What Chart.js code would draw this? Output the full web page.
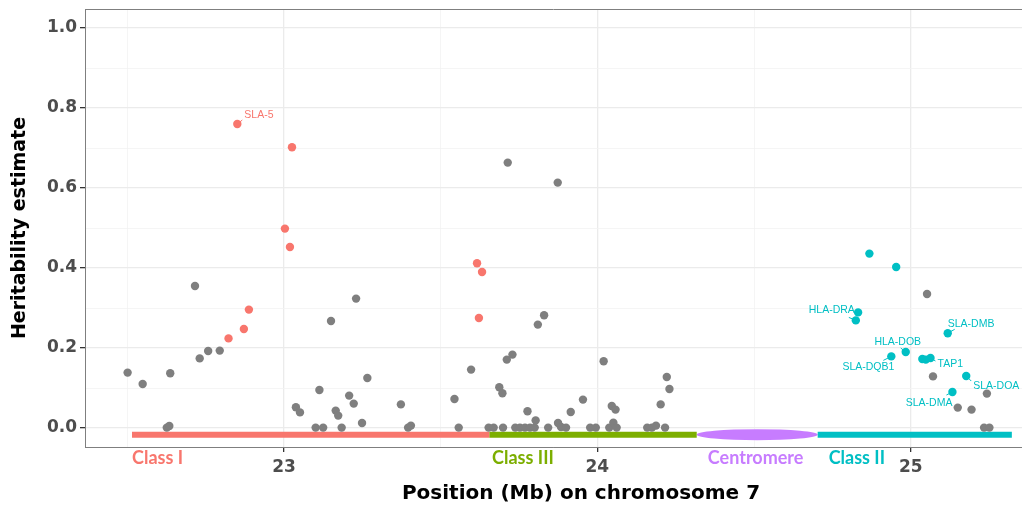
<!DOCTYPE html>
<html>
<head>
<meta charset="utf-8">
<script src="https://cdn.jsdelivr.net/npm/chart.js@4.4.0/dist/chart.umd.min.js"></script>
<style>
  body { margin: 0; background: #fff; }
  #wrap { width: 1022px; height: 508px; }
</style>
</head>
<body>
<div id="wrap"><canvas id="chart" width="1022" height="508"></canvas></div>
<script>
// Heritability estimates along the MHC region, chromosome 7 (Mb)
const otherX = [22.501, 22.549, 22.626, 22.634, 22.637, 22.716, 22.731, 22.758, 22.795,
  23.038, 23.051, 23.101, 23.113, 23.125, 23.150, 23.165, 23.173, 23.184, 23.208, 23.2225,
  23.230, 23.249, 23.266, 23.373, 23.396, 23.405, 23.544, 23.5575, 23.597, 23.653, 23.669,
  23.687, 23.697, 23.699, 23.711, 23.714, 23.729, 23.738, 23.753, 23.769, 23.777, 23.785,
  23.800, 23.803, 23.810, 23.830, 23.843, 23.8735, 23.8745, 23.884, 23.900, 23.915, 23.954,
  23.977, 23.995, 24.020, 24.038, 24.046, 24.051, 24.058, 24.0615, 24.159, 24.174, 24.187,
  24.202, 24.216, 24.2215, 24.230, 25.052, 25.071, 25.150, 25.194, 25.234, 25.243, 25.251];
const otherY = [0.1385, 0.110, 0.001, 0.005, 0.137, 0.355, 0.174, 0.1925, 0.1935,
  0.052, 0.039, 0.001, 0.095, 0.001, 0.2675, 0.0435, 0.031, 0.001, 0.081, 0.061,
  0.3235, 0.0125, 0.125, 0.059, 0.001, 0.006, 0.0725, 0.001, 0.146, 0.001, 0.001,
  0.102, 0.087, 0.001, 0.171, 0.6635, 0.1835, 0.001, 0.001, 0.001, 0.042, 0.001,
  0.001, 0.019, 0.2585, 0.282, 0.001, 0.6135, 0.0125, 0.0025, 0.001, 0.040, 0.071,
  0.001, 0.001, 0.1667, 0.001, 0.055, 0.0135, 0.046, 0.001, 0.001, 0.001, 0.006,
  0.059, 0.001, 0.1275, 0.0975, 0.335, 0.129, 0.051, 0.046, 0.001, 0.086, 0.001];

const classIX = [22.823, 22.851, 22.872, 22.888, 23.003, 23.019, 23.0255, 23.616, 23.622, 23.632];
const classIY = [0.224, 0.760, 0.2475, 0.296, 0.4985, 0.4525, 0.702, 0.412, 0.275, 0.390];

const classIIX = [24.8247, 24.832, 24.868, 24.938, 24.9535, 24.984, 25.037, 25.048, 25.063, 25.118, 25.133, 25.177];
const classIIY = [0.269, 0.289, 0.436, 0.179, 0.4025, 0.190, 0.1725, 0.171, 0.175, 0.2368, 0.090, 0.130];

// labelled genes (x, y of the labelled point)
const geneNames = ['SLA-5', 'HLA-DRA', 'SLA-DMB', 'HLA-DOB', 'SLA-DQB1', 'TAP1', 'SLA-DOA', 'SLA-DMA'];
const geneX = [22.851, 24.8247, 25.118, 24.984, 24.938, 25.063, 25.177, 25.133];
const geneY = [0.760, 0.269, 0.2368, 0.190, 0.179, 0.175, 0.130, 0.090];

// MHC regions along the chromosome
const regionNames = ['Class I', 'Class III', 'Centromere', 'Class II'];
const regionStart = [22.515, 23.655, 24.317, 24.703];
const regionEnd = [23.655, 24.317, 24.703, 25.3226];
const regionLevel = -0.0166;

const yTicks = [0, 0.2, 0.4, 0.6, 0.8, 1.0];
const xTicks = [23, 24, 25];

const RED = '#F8766D', GREEN = '#7CAE00', PURPLE = '#C77CFF', TEAL = '#00BFC4', GREY = '#7F7F7F';
const regionColors = [RED, GREEN, PURPLE, TEAL];

function pts(xs, ys) {
  return xs.map((x, i) => ({ x: x, y: ys[i] }));
}

function isMajor(v, list) {
  return list.some(t => Math.abs(t - v) < 1e-6);
}

// chromosome region bars (the centromere is drawn as an ellipse by the plugin)
const regionSets = regionNames.map((name, i) => ({
  label: name,
  data: name === 'Centromere' ? [] : [{ x: regionStart[i], y: regionLevel }, { x: regionEnd[i], y: regionLevel }],
  showLine: true,
  borderColor: regionColors[i],
  borderWidth: 6,
  borderCapStyle: 'butt',
  pointRadius: 0,
  order: 5
}));

const annotations = {
  id: 'annotations',
  beforeDatasetsDraw(chart) {
    const { ctx, scales: { x, y } } = chart;
    const i = regionNames.indexOf('Centromere');
    const x0 = x.getPixelForValue(regionStart[i]);
    const x1 = x.getPixelForValue(regionEnd[i]);
    const yc = y.getPixelForValue(regionLevel);
    ctx.save();
    ctx.fillStyle = PURPLE;
    ctx.beginPath();
    ctx.ellipse((x0 + x1) / 2, yc, (x1 - x0) / 2, 5.5, 0, 0, Math.PI * 2);
    ctx.fill();
    ctx.restore();
  },
  afterDatasetsDraw(chart) {
    const { ctx, chartArea, scales: { x, y } } = chart;
    ctx.save();
    // top panel border
    ctx.strokeStyle = '#7f7f7f';
    ctx.lineWidth = 1;
    ctx.beginPath();
    ctx.moveTo(chartArea.left, chartArea.top + 0.5);
    ctx.lineTo(chartArea.right, chartArea.top + 0.5);
    ctx.stroke();

    // gene labels: [segment dx, dy, text dx, dy, align]
    const place = {
      'SLA-5': [5, -4, 7, -9, 'left'],
      'HLA-DRA': [-7, -3, -1, -10, 'right'],
      'SLA-DMB': [7, -4, 0, -9, 'left'],
      'HLA-DOB': [-5, -4, -8, -10, 'center'],
      'SLA-DQB1': [-8, 4, 3, 11, 'right'],
      'TAP1': [5, 3, 7, 6, 'left'],
      'SLA-DOA': [5, 5, 7, 10, 'left'],
      'SLA-DMA': [-6, 3, 0, 11, 'right']
    };
    ctx.font = '10.5px "Liberation Sans", Arial, sans-serif';
    ctx.textBaseline = 'middle';
    geneNames.forEach((g, i) => {
      const p = place[g];
      const px = x.getPixelForValue(geneX[i]);
      const py = y.getPixelForValue(geneY[i]);
      const col = g === 'SLA-5' ? RED : TEAL;
      ctx.strokeStyle = col;
      ctx.lineWidth = 1;
      ctx.beginPath();
      ctx.moveTo(px, py);
      ctx.lineTo(px + p[0], py + p[1]);
      ctx.stroke();
      ctx.fillStyle = col;
      ctx.textAlign = p[4];
      ctx.fillText(g, px + p[2], py + p[3]);
    });

    // region names under the axis
    const anchor = { 'Class I': [22.515, 'left'], 'Class III': [23.664, 'left'], 'Centromere': [24.505, 'center'], 'Class II': [24.738, 'left'] };
    ctx.font = 'bold 18px Lato, "Open Sans", sans-serif';
    regionNames.forEach((r, i) => {
      ctx.fillStyle = regionColors[i];
      ctx.textAlign = anchor[r][1];
      ctx.fillText(r, x.getPixelForValue(anchor[r][0]), chartArea.bottom + 11);
    });

    // x axis title: the source panel runs past the right edge of the picture,
    // so the title sits right of the visible centre
    ctx.fillStyle = '#000';
    ctx.textAlign = 'center';
    ctx.font = 'bold 20px "DejaVu Sans", sans-serif';
    ctx.fillText('Position (Mb) on chromosome 7', 581, 494);
    ctx.restore();
  }
};

new Chart(document.getElementById('chart'), {
  type: 'scatter',
  data: {
    datasets: [
      { label: 'Other', data: pts(otherX, otherY), backgroundColor: GREY, pointRadius: 4.2, pointBorderWidth: 0, order: 3 },
      { label: 'Class I', data: pts(classIX, classIY), backgroundColor: RED, pointRadius: 4.2, pointBorderWidth: 0, order: 2 },
      { label: 'Class II', data: pts(classIIX, classIIY), backgroundColor: TEAL, pointRadius: 4.2, pointBorderWidth: 0, order: 1 },
      ...regionSets
    ]
  },
  options: {
    responsive: false,
    animation: false,
    devicePixelRatio: 1,
    layout: { autoPadding: false, padding: { top: 9, right: 0, left: 0, bottom: 0 } },
    plugins: { legend: { display: false }, tooltip: { enabled: false } },
    elements: { point: { borderWidth: 0, hoverRadius: 4 } },
    scales: {
      x: {
        type: 'linear',
        min: 22.365,
        max: 25.355,
        afterFit(scale) {
          scale.height = 61;
          scale.paddingLeft = 0;
          scale.paddingRight = 0;
        },
        ticks: {
          stepSize: 0.5,
          includeBounds: false,
          autoSkip: false,
          maxRotation: 0,
          padding: 5,
          color: '#4D4D4D',
          font: { family: '"DejaVu Sans", sans-serif', size: 17, weight: 'bold' },
          callback: v => isMajor(v, xTicks) ? String(v) : ''
        },
        grid: {
          color: c => isMajor(c.tick.value, xTicks) ? '#EBEBEB' : '#F3F3F3',
          lineWidth: c => isMajor(c.tick.value, xTicks) ? 1.3 : 0.8,
          tickColor: c => isMajor(c.tick.value, xTicks) ? '#333333' : 'rgba(0,0,0,0)',
          tickLength: 5
        },
        border: { color: '#7f7f7f', width: 1 },
        title: { display: false }
      },
      y: {
        type: 'linear',
        min: -0.0475,
        max: 1.0475,
        afterFit(scale) {
          scale.width = 85;
          scale.paddingTop = 0;
          scale.paddingBottom = 0;
        },
        ticks: {
          stepSize: 0.1,
          includeBounds: false,
          autoSkip: false,
          padding: 3,
          color: '#4D4D4D',
          font: { family: '"DejaVu Sans", sans-serif', size: 17, weight: 'bold' },
          callback: v => isMajor(v, yTicks) ? v.toFixed(1) : ''
        },
        grid: {
          color: c => isMajor(c.tick.value, yTicks) ? '#EBEBEB' : '#F3F3F3',
          lineWidth: c => isMajor(c.tick.value, yTicks) ? 1.3 : 0.8,
          tickColor: c => isMajor(c.tick.value, yTicks) ? '#333333' : 'rgba(0,0,0,0)',
          tickLength: 5
        },
        border: { color: '#7f7f7f', width: 1 },
        title: {
          display: true,
          text: 'Heritability estimate',
          color: '#000',
          font: { family: '"DejaVu Sans", sans-serif', size: 19, weight: 'bold' },
          padding: { top: 9, bottom: 0 }
        }
      }
    }
  },
  plugins: [annotations]
});
</script>
</body>
</html>
